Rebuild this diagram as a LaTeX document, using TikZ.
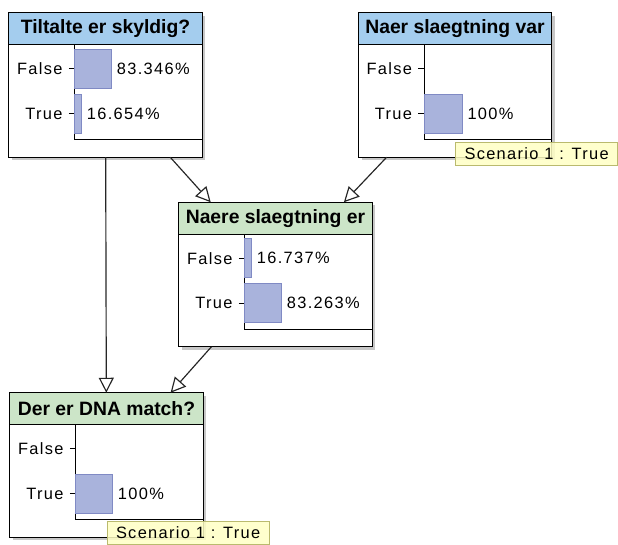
\documentclass[tikz,border=0pt]{standalone}
\usepackage{fontspec}
\setmainfont{Liberation Sans}
\newfontfamily\bnfont[LetterSpace=8]{Liberation Sans}
\usetikzlibrary{arrows.meta,shadows}

\definecolor{headblue}{RGB}{164,205,238}
\definecolor{headgreen}{RGB}{204,229,200}
\definecolor{barfill}{RGB}{169,179,220}
\definecolor{bardraw}{RGB}{128,138,196}
\definecolor{scenfill}{RGB}{255,255,196}
\definecolor{scendraw}{RGB}{186,186,110}

\tikzset{
  bnbox/.style={fill=white, minimum width=5.79cm, minimum height=4.32cm, inner sep=0pt,
    drop shadow={shadow xshift=0.09cm, shadow yshift=-0.09cm, fill=black!22, opacity=1}},
  title/.style={font=\fontsize{16.5}{19}\selectfont\bfseries, inner sep=0pt},
  statelbl/.style={font=\bnfont\fontsize{14}{16}\selectfont, inner sep=0pt},
  bar/.style={fill=barfill, draw=bardraw, line width=0.6pt},
  scen/.style={fill=scenfill, draw=scendraw, line width=0.6pt, fill opacity=0.85, text opacity=1,
    minimum width=4.86cm, minimum height=0.69cm, inner sep=0pt, anchor=north west,
    font=\bnfont\fontsize{14}{16}\selectfont},
  link/.style={line width=1pt, black!85, -{Triangle[open, length=0.45cm, width=0.45cm, line width=1pt]}}
}

% node box: name, centre x, centre y, title, header colour
\newcommand{\bnbox}[5]{%
  \node[bnbox] (#1) at (#2,#3) {};
  \fill[#5] (#1.north west) rectangle ([shift={(0,32)}]#1.north east);
  \draw[line width=1pt] ([shift={(0,32)}]#1.north west) -- ([shift={(0,32)}]#1.north east);
  \node[title] (#1-title) at ([shift={(0,16)}]#1.north) {#4};
  \draw[line width=1pt] ([shift={(66,32)}]#1.north west) -- ([shift={(66,127)}]#1.north west)
    -- ([shift={(0,127)}]#1.north east);
}
% state row: node, row offset, state
\newcommand{\bnstate}[3]{%
  \node[statelbl, anchor=east] (#1-#3) at ([shift={(54,#2)}]#1.north west) {#3};
  \draw[line width=0.8pt] ([shift={(60,#2)}]#1.north west) -- ([shift={(66,#2)}]#1.north west);
}
% bar: node, row offset, bar width, value
\newcommand{\bnbar}[4]{%
  \draw[bar] ([shift={(66,#2-19.5)}]#1.north west) rectangle ([shift={(66+#3,#2+19.5)}]#1.north west);
  \node[statelbl, anchor=west] (#1-val#2) at ([shift={(71+#3,#2)}]#1.north west) {#4};
}

\begin{document}
\begin{tikzpicture}[x=0.03cm, y=-0.03cm]
\useasboundingbox (0,0) rectangle (618,545);

\bnbox{guilty}{105.5}{85}{Tiltalte er skyldig?}{headblue}
\bnstate{guilty}{56}{False}
\bnstate{guilty}{101}{True}
\bnbar{guilty}{56}{37}{83.346\%}
\bnbar{guilty}{101}{7}{16.654\%}

\bnbox{kinwas}{455}{85}{Naer slaegtning var}{headblue}
\bnstate{kinwas}{56}{False}
\bnstate{kinwas}{101}{True}
\bnbar{kinwas}{101}{38}{100\%}

\bnbox{kinis}{275.5}{274.5}{Naere slaegtning er}{headgreen}
\bnstate{kinis}{56}{False}
\bnstate{kinis}{101}{True}
\bnbar{kinis}{56}{7}{16.737\%}
\bnbar{kinis}{101}{37}{83.263\%}

\bnbox{dna}{106.5}{465}{Der er DNA match?}{headgreen}
\bnstate{dna}{56}{False}
\bnstate{dna}{101}{True}
\bnbar{dna}{101}{37}{100\%}

% borders on top
\foreach \n in {guilty,kinwas,kinis,dna}
  \draw[line width=1pt] (\n.north west) rectangle (\n.south east);

% links
\draw[link] (guilty) -- (dna);
\draw[link] (guilty) -- (kinis);
\draw[link] (kinwas) -- (kinis);
\draw[link] (kinis) -- (dna);

% scenario evidence
\node[scen] (kinwas-scen) at ([shift={(97,129)}]kinwas.north west) {Scenario 1 : True};
\node[scen] (dna-scen) at ([shift={(97,128)}]dna.north west) {Scenario 1 : True};
\end{tikzpicture}
\end{document}
